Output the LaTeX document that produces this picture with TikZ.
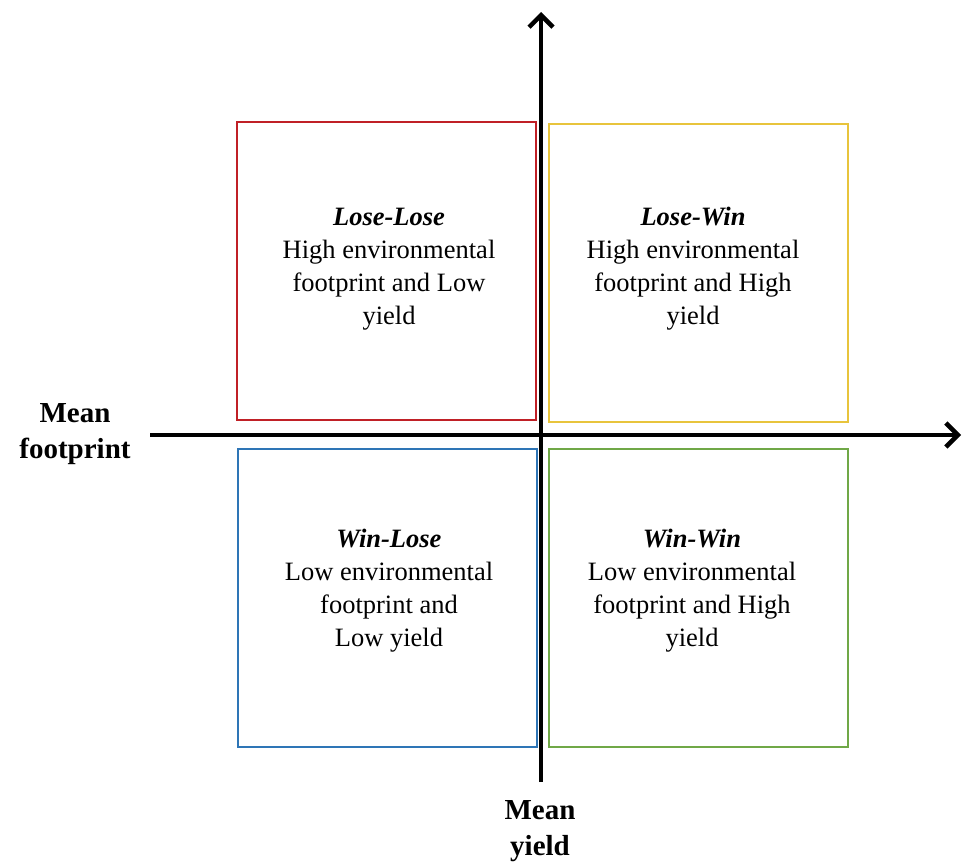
\documentclass[tikz,border=0pt]{standalone}
\usepackage{fontspec}
\setmainfont{Liberation Serif}
\usetikzlibrary{arrows.meta}
\definecolor{cred}{RGB}{192,32,38}
\definecolor{cyellow}{RGB}{232,196,60}
\definecolor{cblue}{RGB}{46,117,182}
\definecolor{cgreen}{RGB}{112,168,71}
\tikzset{
  quad/.style={draw=#1, line width=2pt, minimum width=299pt, minimum height=298pt, inner sep=0pt},
  qtext/.style={align=center, font=\fontsize{26.5}{33}\selectfont, inner sep=0pt},
  axis/.style={line width=4pt, -{Straight Barb[length=12pt,width=24pt,line width=4.5pt]}},
  axlabel/.style={align=center, font=\fontsize{29}{36}\selectfont\bfseries, inner sep=0pt}
}
\begin{document}
\begin{tikzpicture}[x=1pt,y=-1pt]
\useasboundingbox (0,0) rectangle (963,866);
% boxes
\node[quad=cred]    (LL) at (386.5,271) {};
\node[quad=cyellow] (LW) at (698,273) {};
\node[quad=cblue]   (WL) at (387.5,597.5) {};
\node[quad=cgreen]  (WW) at (698,597.5) {};
% texts
\node[qtext] (LLt) at (389,269) {\textbf{\textit{Lose-Lose}}\\High environmental\\footprint and Low\\yield};
\node[qtext] (LWt) at (693,269) {\textbf{\textit{Lose-Win}}\\High environmental\\footprint and High\\yield};
\node[qtext] (WLt) at (389,591) {\textbf{\textit{Win-Lose}}\\Low environmental\\footprint and\\Low yield};
\node[qtext] (WWt) at (692,591) {\textbf{\textit{Win-Win}}\\Low environmental\\footprint and High\\yield};
% axes
\coordinate (xl) at (150,435);
\coordinate (xr) at (961,435);
\coordinate (yb) at (541,782);
\coordinate (yt) at (541,12);
\draw[axis] (xl) -- (xr);
\draw[axis] (yb) -- (yt);
% labels
\node[axlabel] (fp) at (75,434) {Mean\\footprint};
\node[axlabel] (yl) at (540,831) {Mean\\yield};
\end{tikzpicture}
\end{document}
